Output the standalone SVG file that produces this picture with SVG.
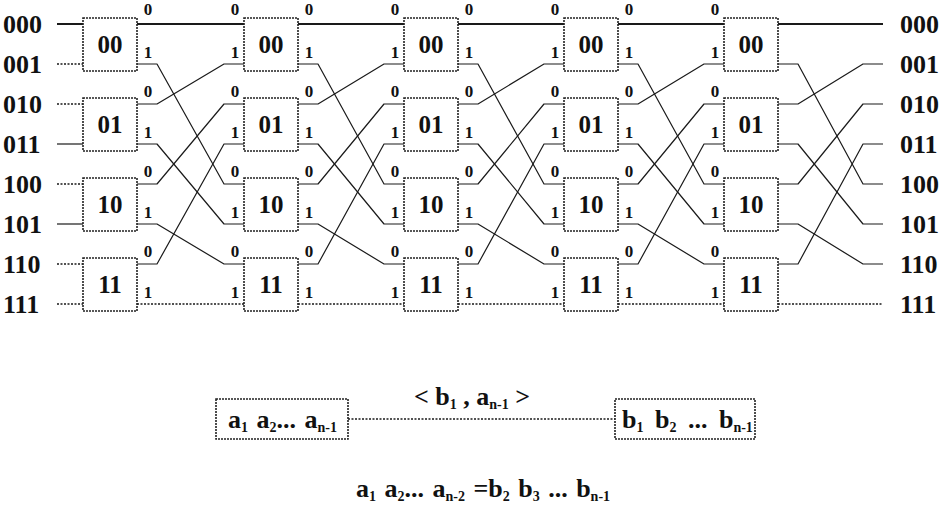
<svg xmlns="http://www.w3.org/2000/svg" width="944" height="511" viewBox="0 0 944 511">
<style>
.bg{fill:#fff}
text{font-family:"Liberation Serif","Times New Roman","DejaVu Serif",serif}
.box rect{fill:#fff;stroke:#222;stroke-width:1.6;stroke-dasharray:2 1}
.box text{font-size:25px;font-weight:bold;fill:#111;text-anchor:middle}
.row{font-size:26px;font-weight:bold;fill:#111}
.port{font-size:17px;font-weight:bold;fill:#111;text-anchor:middle}
#wires path{fill:none;stroke:#1a1a1a;stroke-width:1.2;stroke-linejoin:round}
#wires path.b{stroke-width:2}
#wires path.d{stroke-width:1.5;stroke-dasharray:2 1.5}
.box text.f,.f{font-size:26px;font-weight:bold;fill:#111}
.s{font-size:14px}
</style>
<rect class="bg" x="0" y="0" width="944" height="511"/>

<g id="wires">
<path class="b" d="M57 24 H83"/>
<path class="d" d="M57 64 H83"/>
<path class="d" d="M57 104 H83"/>
<path d="M57 144 H83"/>
<path class="d" d="M57 184 H83"/>
<path d="M57 224 H83"/>
<path class="d" d="M57 264 H83"/>
<path class="d" d="M57 304 H83"/>
<path class="b" d="M137 24 H244"/>
<path d="M137 64 H157 L224 184 H244"/>
<path d="M137 104 H157 L224 64 H244"/>
<path d="M137 144 H157 L224 224 H244"/>
<path d="M137 184 H157 L224 104 H244"/>
<path d="M137 224 H157 L224 264 H244"/>
<path d="M137 264 H157 L224 144 H244"/>
<path class="d" d="M137 304 H244"/>
<path class="b" d="M298 24 H404"/>
<path d="M298 64 H318 L384 184 H404"/>
<path d="M298 104 H318 L384 64 H404"/>
<path d="M298 144 H318 L384 224 H404"/>
<path d="M298 184 H318 L384 104 H404"/>
<path d="M298 224 H318 L384 264 H404"/>
<path d="M298 264 H318 L384 144 H404"/>
<path class="d" d="M298 304 H404"/>
<path class="b" d="M458 24 H564"/>
<path d="M458 64 H478 L544 184 H564"/>
<path d="M458 104 H478 L544 64 H564"/>
<path d="M458 144 H478 L544 224 H564"/>
<path d="M458 184 H478 L544 104 H564"/>
<path d="M458 224 H478 L544 264 H564"/>
<path d="M458 264 H478 L544 144 H564"/>
<path class="d" d="M458 304 H564"/>
<path class="b" d="M618 24 H724"/>
<path d="M618 64 H638 L704 184 H724"/>
<path d="M618 104 H638 L704 64 H724"/>
<path d="M618 144 H638 L704 224 H724"/>
<path d="M618 184 H638 L704 104 H724"/>
<path d="M618 224 H638 L704 264 H724"/>
<path d="M618 264 H638 L704 144 H724"/>
<path class="d" d="M618 304 H724"/>
<path class="b" d="M778 24 H883"/>
<path d="M778 64 H798 L863 184 H883"/>
<path d="M778 104 H798 L863 64 H883"/>
<path d="M778 144 H798 L863 224 H883"/>
<path d="M778 184 H798 L863 104 H883"/>
<path d="M778 224 H798 L863 264 H883"/>
<path d="M778 264 H798 L863 144 H883"/>
<path class="d" d="M778 304 H883"/>
<path class="d" d="M348 419 H615"/>
</g>

<g id="labels-left">
<text class="row" x="3" y="33">000</text>
<text class="row" x="3" y="73">001</text>
<text class="row" x="3" y="113">010</text>
<text class="row" x="3" y="153">011</text>
<text class="row" x="3" y="193">100</text>
<text class="row" x="3" y="233">101</text>
<text class="row" x="3" y="273">110</text>
<text class="row" x="3" y="313">111</text>
</g>
<g id="labels-right">
<text class="row" x="900" y="33">000</text>
<text class="row" x="900" y="73">001</text>
<text class="row" x="900" y="113">010</text>
<text class="row" x="900" y="153">011</text>
<text class="row" x="900" y="193">100</text>
<text class="row" x="900" y="233">101</text>
<text class="row" x="900" y="273">110</text>
<text class="row" x="900" y="313">111</text>
</g>

<g id="c1-00" class="box"><rect x="83" y="18" width="54" height="53"/><text x="110" y="53">00</text></g>
<g id="c1-01" class="box"><rect x="83" y="98" width="54" height="53"/><text x="110" y="133">01</text></g>
<g id="c1-10" class="box"><rect x="83" y="178" width="54" height="53"/><text x="110" y="213">10</text></g>
<g id="c1-11" class="box"><rect x="83" y="258" width="54" height="53"/><text x="110" y="293">11</text></g>
<g id="c2-00" class="box"><rect x="244" y="18" width="54" height="53"/><text x="271" y="53">00</text></g>
<g id="c2-01" class="box"><rect x="244" y="98" width="54" height="53"/><text x="271" y="133">01</text></g>
<g id="c2-10" class="box"><rect x="244" y="178" width="54" height="53"/><text x="271" y="213">10</text></g>
<g id="c2-11" class="box"><rect x="244" y="258" width="54" height="53"/><text x="271" y="293">11</text></g>
<g id="c3-00" class="box"><rect x="404" y="18" width="54" height="53"/><text x="431" y="53">00</text></g>
<g id="c3-01" class="box"><rect x="404" y="98" width="54" height="53"/><text x="431" y="133">01</text></g>
<g id="c3-10" class="box"><rect x="404" y="178" width="54" height="53"/><text x="431" y="213">10</text></g>
<g id="c3-11" class="box"><rect x="404" y="258" width="54" height="53"/><text x="431" y="293">11</text></g>
<g id="c4-00" class="box"><rect x="564" y="18" width="54" height="53"/><text x="591" y="53">00</text></g>
<g id="c4-01" class="box"><rect x="564" y="98" width="54" height="53"/><text x="591" y="133">01</text></g>
<g id="c4-10" class="box"><rect x="564" y="178" width="54" height="53"/><text x="591" y="213">10</text></g>
<g id="c4-11" class="box"><rect x="564" y="258" width="54" height="53"/><text x="591" y="293">11</text></g>
<g id="c5-00" class="box"><rect x="724" y="18" width="54" height="53"/><text x="751" y="53">00</text></g>
<g id="c5-01" class="box"><rect x="724" y="98" width="54" height="53"/><text x="751" y="133">01</text></g>
<g id="c5-10" class="box"><rect x="724" y="178" width="54" height="53"/><text x="751" y="213">10</text></g>
<g id="c5-11" class="box"><rect x="724" y="258" width="54" height="53"/><text x="751" y="293">11</text></g>

<g id="ports">
<text class="port" x="148" y="15">0</text><text class="port" x="148" y="58">1</text>
<text class="port" x="148" y="97">0</text><text class="port" x="148" y="138">1</text>
<text class="port" x="148" y="177">0</text><text class="port" x="148" y="218">1</text>
<text class="port" x="148" y="257">0</text><text class="port" x="148" y="298">1</text>
<text class="port" x="235" y="15">0</text><text class="port" x="235" y="58">1</text>
<text class="port" x="235" y="97">0</text><text class="port" x="235" y="138">1</text>
<text class="port" x="235" y="177">0</text><text class="port" x="235" y="218">1</text>
<text class="port" x="235" y="257">0</text><text class="port" x="235" y="298">1</text>
<text class="port" x="309" y="15">0</text><text class="port" x="309" y="58">1</text>
<text class="port" x="309" y="97">0</text><text class="port" x="309" y="138">1</text>
<text class="port" x="309" y="177">0</text><text class="port" x="309" y="218">1</text>
<text class="port" x="309" y="257">0</text><text class="port" x="309" y="298">1</text>
<text class="port" x="395" y="15">0</text><text class="port" x="395" y="58">1</text>
<text class="port" x="395" y="97">0</text><text class="port" x="395" y="138">1</text>
<text class="port" x="395" y="177">0</text><text class="port" x="395" y="218">1</text>
<text class="port" x="395" y="257">0</text><text class="port" x="395" y="298">1</text>
<text class="port" x="469" y="15">0</text><text class="port" x="469" y="58">1</text>
<text class="port" x="469" y="97">0</text><text class="port" x="469" y="138">1</text>
<text class="port" x="469" y="177">0</text><text class="port" x="469" y="218">1</text>
<text class="port" x="469" y="257">0</text><text class="port" x="469" y="298">1</text>
<text class="port" x="555" y="15">0</text><text class="port" x="555" y="58">1</text>
<text class="port" x="555" y="97">0</text><text class="port" x="555" y="138">1</text>
<text class="port" x="555" y="177">0</text><text class="port" x="555" y="218">1</text>
<text class="port" x="555" y="257">0</text><text class="port" x="555" y="298">1</text>
<text class="port" x="629" y="15">0</text><text class="port" x="629" y="58">1</text>
<text class="port" x="629" y="97">0</text><text class="port" x="629" y="138">1</text>
<text class="port" x="629" y="177">0</text><text class="port" x="629" y="218">1</text>
<text class="port" x="629" y="257">0</text><text class="port" x="629" y="298">1</text>
<text class="port" x="715" y="15">0</text><text class="port" x="715" y="58">1</text>
<text class="port" x="715" y="97">0</text><text class="port" x="715" y="138">1</text>
<text class="port" x="715" y="177">0</text><text class="port" x="715" y="218">1</text>
<text class="port" x="715" y="257">0</text><text class="port" x="715" y="298">1</text>
</g>

<g id="node-a" class="box">
<rect x="216" y="399" width="132" height="40"/>
<text class="f" x="228" y="428" style="text-anchor:start;word-spacing:2px">a<tspan class="s" dy="4">1</tspan><tspan dy="-4"> a</tspan><tspan class="s" dy="4">2</tspan><tspan dy="-4">... a</tspan><tspan class="s" dy="4">n-1</tspan></text>
</g>
<g id="node-b" class="box">
<rect x="615" y="399" width="140" height="40"/>
<text class="f" x="622" y="428" style="text-anchor:start;word-spacing:5px">b<tspan class="s" dy="4">1</tspan><tspan dy="-4"> b</tspan><tspan class="s" dy="4">2</tspan><tspan dy="-4"> ... b</tspan><tspan class="s" dy="4">n-1</tspan></text>
</g>
<text class="f" x="472" y="405" text-anchor="middle">&lt; b<tspan class="s" dy="4">1</tspan><tspan dy="-4"> , a</tspan><tspan class="s" dy="4">n-1</tspan><tspan dy="-4"> &gt;</tspan></text>
<text class="f" x="483" y="497" text-anchor="middle" style="word-spacing:2px">a<tspan class="s" dy="4">1</tspan><tspan dy="-4"> a</tspan><tspan class="s" dy="4">2</tspan><tspan dy="-4">... a</tspan><tspan class="s" dy="4">n-2</tspan><tspan dy="-4"> =b</tspan><tspan class="s" dy="4">2</tspan><tspan dy="-4"> b</tspan><tspan class="s" dy="4">3</tspan><tspan dy="-4"> ... b</tspan><tspan class="s" dy="4">n-1</tspan></text>
</svg>
